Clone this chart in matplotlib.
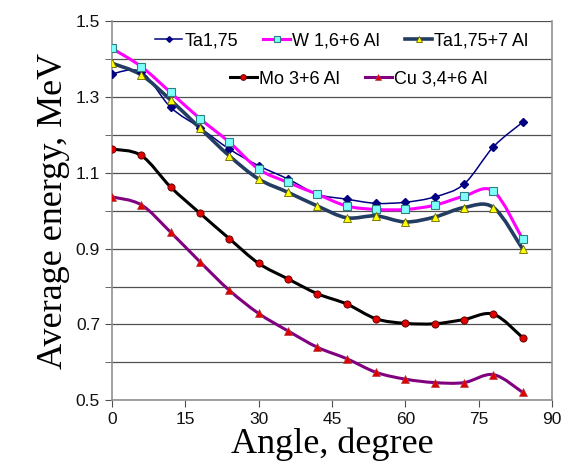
import numpy as np
import matplotlib
matplotlib.use("Agg")
import matplotlib.pyplot as plt
from matplotlib.path import Path
from matplotlib.patches import PathPatch
from matplotlib.lines import Line2D

# angle (degree) and average energy (MeV) for each target
angle = [0, 6, 12, 18, 24, 30, 36, 42, 48, 54, 60, 66, 72, 78, 84]
ta_175 = [1.360, 1.365, 1.272, 1.218, 1.162, 1.118, 1.083, 1.043, 1.030,
          1.019, 1.022, 1.036, 1.070, 1.168, 1.233]
w_16_6al = [1.427, 1.379, 1.311, 1.242, 1.180, 1.109, 1.074, 1.043, 1.012,
            1.003, 1.003, 1.014, 1.038, 1.051, 0.924]
ta_175_7al = [1.388, 1.357, 1.291, 1.217, 1.144, 1.083, 1.048, 1.012, 0.981,
              0.986, 0.970, 0.983, 1.008, 1.008, 0.898]
mo_3_6al = [1.162, 1.145, 1.062, 0.993, 0.926, 0.861, 0.820, 0.781, 0.754,
            0.715, 0.703, 0.702, 0.713, 0.727, 0.665]
cu_34_6al = [1.036, 1.015, 0.943, 0.865, 0.790, 0.729, 0.683, 0.640, 0.610,
             0.574, 0.556, 0.547, 0.547, 0.568, 0.521]

labels = ["Ta1,75", "W 1,6+6 Al", "Ta1,75+7 Al", "Mo 3+6 Al", "Cu 3,4+6 Al"]
x_ticks = [0, 15, 30, 45, 60, 75, 90]
y_ticks = [0.5, 0.7, 0.9, 1.1, 1.3, 1.5]


def smooth_path(x, y):
    """Catmull-Rom curve through the points as cubic Bezier segments."""
    p = np.column_stack([x, y]).astype(float)
    ext = np.vstack([p[0], p, p[-1]])
    verts = [p[0]]
    codes = [Path.MOVETO]
    for i in range(len(p) - 1):
        p0, p1, p2, p3 = ext[i], ext[i + 1], ext[i + 2], ext[i + 3]
        c1 = p1 + (p2 - p0) / 6.0
        c2 = p2 - (p3 - p1) / 6.0
        verts += [c1, c2, p2]
        codes += [Path.CURVE4] * 3
    return Path(verts, codes)


series = [
    (ta_175, dict(color="#000080", lw=1.1),
     dict(marker="D", ms=3.6, mfc="#000080", mec="#000080")),
    (w_16_6al, dict(color="#FF00FF", lw=2.2),
     dict(marker="s", ms=5.8, mfc="#7FFFFF", mec="#2F7F7F", mew=0.8)),
    (ta_175_7al, dict(color="#233D62", lw=2.6),
     dict(marker="^", ms=5.8, mfc="#FFFF00", mec="#666600", mew=0.6)),
    (mo_3_6al, dict(color="#000000", lw=2.2),
     dict(marker="o", ms=5.2, mfc="#E00000", mec="#550000", mew=0.6)),
    (cu_34_6al, dict(color="#800080", lw=2.2),
     dict(marker="^", ms=5.8, mfc="#E00000", mec="#B04040", mew=0.5)),
]

fig = plt.figure(figsize=(5.71, 4.70), dpi=100)
ax = fig.add_axes([0.196, 0.148, 0.771, 0.808])

handles = []
for vals, line_kw, mark_kw in series:
    ax.add_patch(PathPatch(smooth_path(angle, vals), fill=False,
                           capstyle="round", joinstyle="round",
                           edgecolor=line_kw["color"], lw=line_kw["lw"],
                           zorder=3))
    ax.plot(angle, vals, ls="none", zorder=4, **mark_kw)
    handles.append(Line2D([], [], color=line_kw["color"], lw=line_kw["lw"],
                          **mark_kw))

ax.set_xlim(0, 90)
ax.set_ylim(0.5, 1.5)
ax.set_xticks(x_ticks)
ax.set_yticks(y_ticks)
ax.set_yticks(np.arange(0.5, 1.51, 0.1), minor=True)
ax.set_yticklabels([f"{v:.1f}" for v in y_ticks])
ax.yaxis.grid(True, which="both", color="#505050", lw=0.9)
ax.set_axisbelow(True)

for side in ["left", "bottom", "right"]:
    ax.spines[side].set_color("#909090")
    ax.spines[side].set_linewidth(1.2)
ax.spines["top"].set_visible(False)

ax.tick_params(axis="both", which="both", direction="out", length=5,
               color="#505050", labelsize=12.5, labelcolor="#111111")
for lab in ax.get_xticklabels() + ax.get_yticklabels():
    lab.set_family("Liberation Sans")

ax.set_xlabel("Angle, degree", family="Liberation Serif", fontsize=26,
              labelpad=0)
ax.set_ylabel("Average energy, MeV", family="Liberation Serif", fontsize=26,
              labelpad=4)

leg_kw = dict(frameon=False, prop={"family": "Liberation Sans", "size": 13},
              handlelength=1.5, handletextpad=0.1, columnspacing=1.4,
              borderpad=0, borderaxespad=0, markerscale=0.8)
leg1 = fig.legend(handles[:3], labels[:3], ncol=3, loc="center right",
                  bbox_to_anchor=(528 / 571, 1 - 41 / 470), **leg_kw)
leg2 = fig.legend(handles[3:], labels[3:], ncol=2, loc="center right",
                  bbox_to_anchor=(487 / 571, 1 - 79 / 470), **leg_kw)

fig.savefig("out.png", dpi=100)
